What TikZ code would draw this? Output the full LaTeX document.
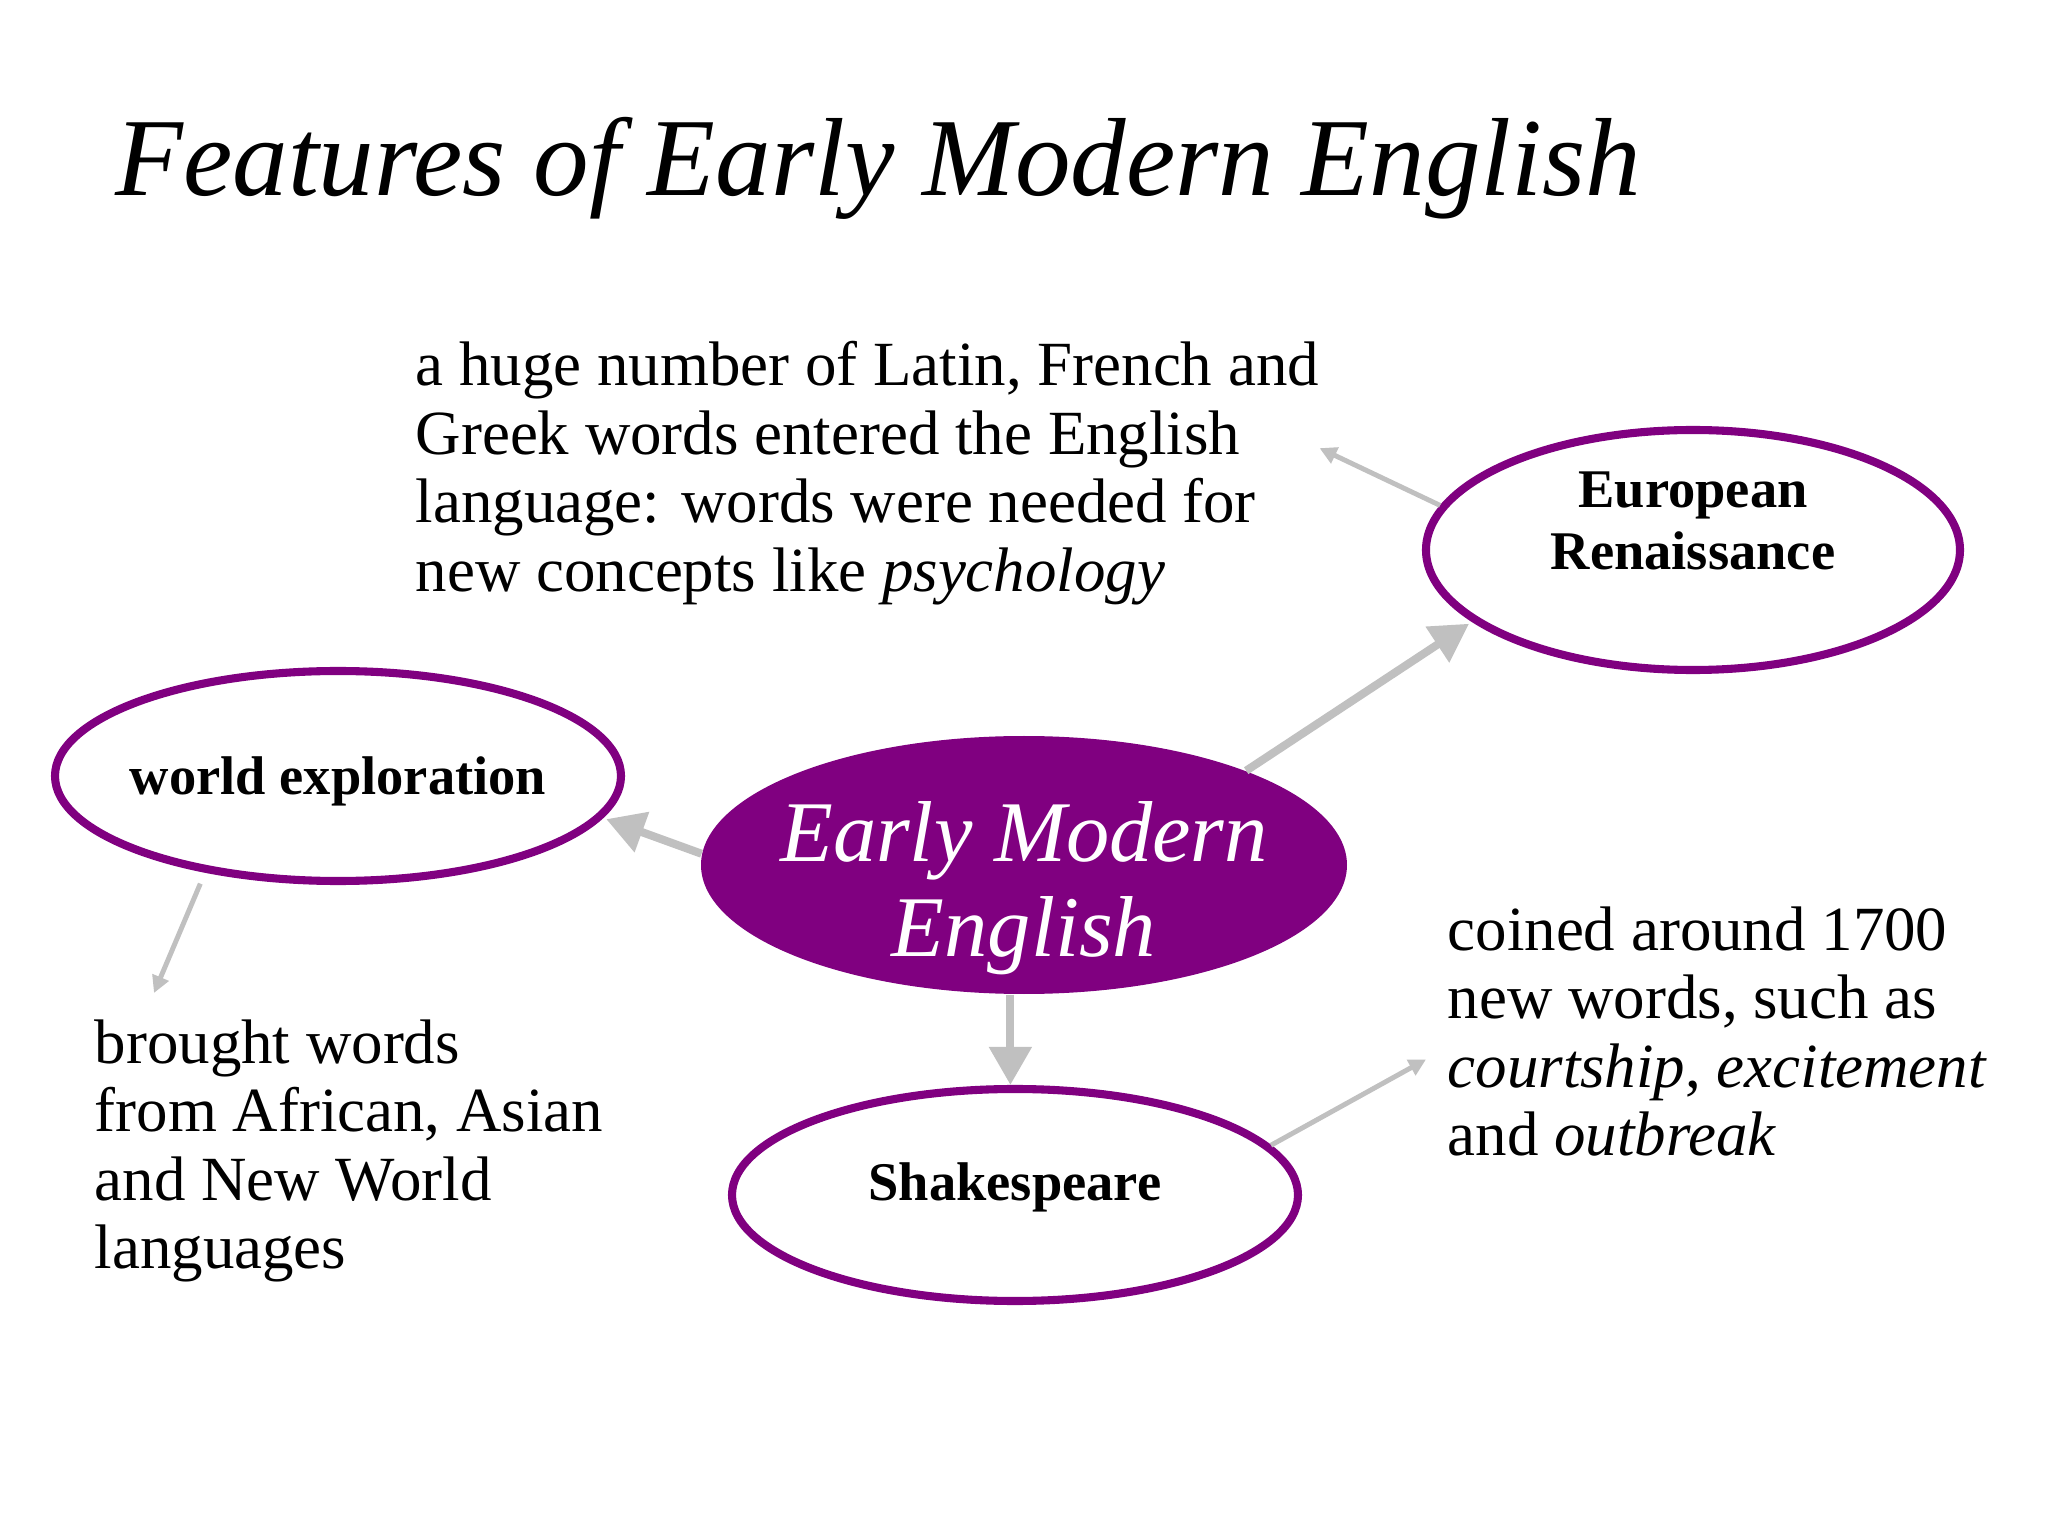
\documentclass[tikz,border=0pt]{standalone}
\usepackage{fontspec}
\setmainfont{Liberation Serif}
\usetikzlibrary{shapes.geometric,arrows.meta}
\definecolor{plum}{RGB}{128,0,128}
\definecolor{silver}{RGB}{192,192,192}

\begin{document}
\begin{tikzpicture}[
  idea/.style={ellipse, draw=plum, line width=2.3pt, fill=white, minimum width=5.66cm, minimum height=2.1cm, inner sep=0pt},
  ideatext/.style={inner sep=0pt, align=center, font=\fontsize{15.5}{17.8}\selectfont\bfseries},
  core/.style={ellipse, fill=plum, minimum width=6.46cm, minimum height=2.58cm, inner sep=0pt},
  coretext/.style={inner sep=0pt, align=center, text=white, font=\fontsize{24.6}{27}\selectfont\itshape},
  note/.style={inner sep=0pt, align=left, anchor=north west, font=\fontsize{17.9}{19.45}\selectfont},
  bigarrow/.style={-{Triangle[length=0.38cm,width=0.41cm]}, draw=silver, fill=silver, line width=2.3pt},
  thinarrow/.style={-{Triangle[length=0.17cm,width=0.17cm]}, draw=silver, fill=silver, line width=1.4pt}
]
\path[fill=white, use as bounding box] (0,0) rectangle (20.48,-15.36);

\node[anchor=base west, font=\fontsize{31.6}{36}\selectfont\itshape] (title) at (1.03,-1.96) {Features of Early Modern English};

\node[core, label={[coretext, yshift=-0.23cm]center:{Early Modern\\English}}] (eme) at (10.24,-8.65) {};
\node[idea, right of=eme, node distance=6.69cm, yshift=3.15cm, minimum width=5.34cm, minimum height=2.4cm,
  label={[ideatext, yshift=0.29cm]center:{European\\Renaissance}}] (ren) {};
\node[idea, left of=eme, node distance=6.86cm, yshift=0.89cm,
  label={[ideatext, yshift=-0.05cm]center:world exploration}] (world) {};
\node[idea, below of=eme, node distance=3.30cm, xshift=-0.09cm, minimum height=2.12cm,
  label={[ideatext, yshift=0.08cm]center:Shakespeare}] (shk) {};

\node[note] (txtren) at (4.15,-3.41) {a huge number of Latin, French and\\Greek words entered the English\\language: words were needed for\\new concepts like \textit{psychology}};
\node[note] (txtworld) at (0.94,-10.19) {brought words\\from African, Asian\\and New World\\languages};
\node[note] (txtshk) at (14.47,-9.06) {coined around 1700\\new words, such as\\\textit{courtship}, \textit{excitement}\\and \textit{outbreak}};

\draw[bigarrow, shorten >=1pt] (eme.23) -- (ren.198);
\draw[bigarrow, shorten >=1pt] (eme.178) -- (world.351);
\draw[bigarrow] (eme.264) -- (eme.264 |- shk.north);
\draw[thinarrow] (ren.170) -- ([yshift=0.25cm]txtren.east);
\draw[thinarrow, shorten <=0.12cm] (world.216) -- ([shift={(0.6,0.26)}]txtworld.north west);
\draw[thinarrow] (shk.11) -- ([shift={(-0.21,-0.28)}]txtshk.west);
\end{tikzpicture}
\end{document}
